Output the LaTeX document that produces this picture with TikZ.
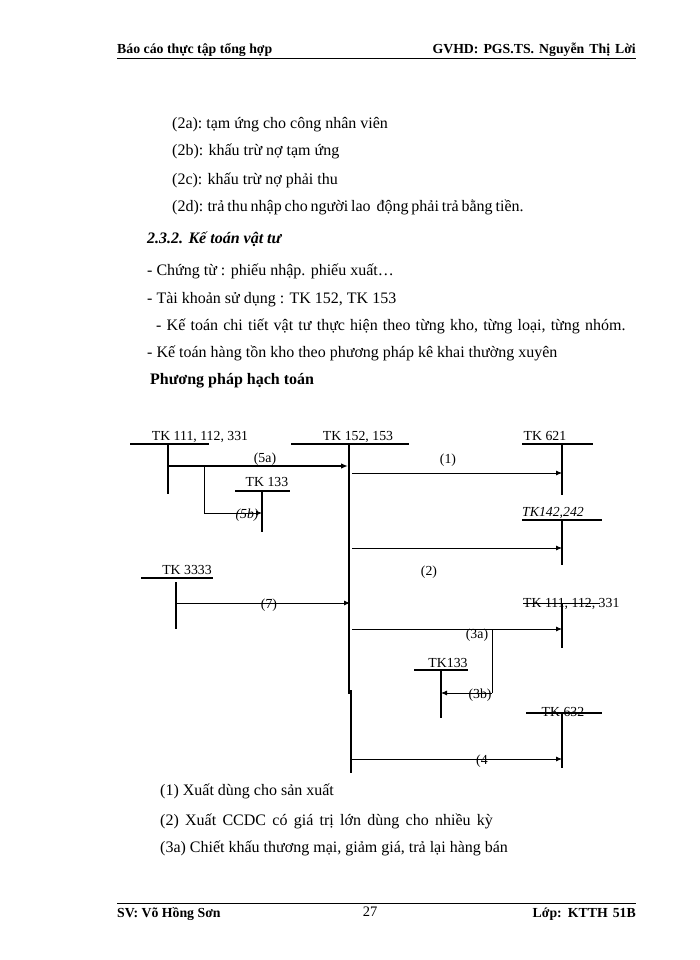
\documentclass[tikz,border=0pt]{standalone}
\usepackage{fontspec}
\setmainfont{Liberation Serif}
\usetikzlibrary{arrows.meta}
\begin{document}
\begin{tikzpicture}[x=1pt,y=-1pt,
  body/.style={anchor=base west,inner sep=0pt,font=\fontsize{16}{19}\selectfont},
  hdr/.style={inner sep=0pt,font=\fontsize{13.8}{16}\selectfont\bfseries},
  lbl/.style={anchor=base,inner sep=0pt,font=\fontsize{13.8}{16}\selectfont},
  tline/.style={line width=1.4pt},
  arr/.style={line width=0.8pt,-{Latex[length=6pt,width=5pt]}},
  conn/.style={line width=0.8pt},
  rule/.style={line width=1pt}
  ]
\useasboundingbox (0,0) rectangle (700,960);
\fill[white] (0,0) rectangle (700,960);

% header / footer
\node[hdr,anchor=base west] (hl) at (117,54) {Báo cáo thực tập tổng hợp};
\node[hdr,anchor=base east] (hr) at (636,54) {\spaceskip=5pt GVHD: PGS.TS. Nguyễn Thị Lời};
\coordinate (hla) at (117,59); \coordinate (hlb) at (636,59);
\draw[rule] (hla) -- (hlb);
\coordinate (fla) at (117,903); \coordinate (flb) at (636,903);
\draw[rule] (fla) -- (flb);
\node[hdr,anchor=base west] (fl) at (117,917) {SV: Võ Hồng Sơn};
\node[lbl,font=\fontsize{14.5}{16}\selectfont] (fc) at (370,916) {27};
\node[hdr,anchor=base east] (fr) at (636,917) {\spaceskip=5pt Lớp: KTTH 51B};

% body text
\node[body] (t2a) at (172,129) {(2a):\ tạm ứng cho công nhân viên};
\node[body] (t2b) at (172,156) {(2b): khấu trừ nợ tạm ứng};
\node[body] (t2c) at (172,184) {(2c): khấu trừ nợ phải thu};
\node[body] (t2d) at (172,211) {\spaceskip=2.9pt (2d): trả thu nhập cho người lao\ \ động phải trả bằng tiền.};
\node[body,font=\fontsize{16}{19}\selectfont\bfseries\itshape] (h232) at (147,243) {2.3.2. Kế toán vật tư};
\node[body] (l1) at (147,275) {- Chứng từ : phiếu nhập. phiếu xuất…};
\node[body] (l2) at (147,303) {- Tài khoản sử dụng : TK 152, TK 153};
\node[body] (l3) at (156,330) {\spaceskip=5.2pt - Kế toán chi tiết\ vật tư thực hiện theo từng kho, từng loại, từng nhóm.};
\node[body] (l4) at (147,357) {- Kế toán hàng tồn kho theo phương pháp kê khai\ thường xuyên};
\node[body,font=\fontsize{16}{19}\selectfont\bfseries] (ppht) at (150,384) {Phương pháp hạch toán};

% T accounts
% T1
\node[lbl] (T1) at (200,440) {TK 111, 112, 331};
\coordinate (T1a) at (130,444); \coordinate (T1b) at (209,444);
\coordinate (T1t) at (168,444); \coordinate (T1d) at (168,494);
\draw[tline] (T1a) -- (T1b); \draw[tline] (T1t) -- (T1d);
% T2 main
\node[lbl] (T2) at (358,440) {TK 152, 153};
\coordinate (T2a) at (291,444); \coordinate (T2b) at (409,444);
\coordinate (T2t) at (349,444); \coordinate (T2m) at (349,694);
\coordinate (T2p) at (351,690); \coordinate (T2d) at (351,773);
\draw[tline] (T2a) -- (T2b);
\draw[line width=1.6pt] (T2t) -- (T2m);
\draw[line width=1.6pt] (T2p) -- (T2d);
% T3
\node[lbl] (T3) at (545,440) {TK 621};
\coordinate (T3a) at (522,444); \coordinate (T3b) at (593,444);
\coordinate (T3t) at (562,444); \coordinate (T3d) at (562,495);
\draw[tline] (T3a) -- (T3b); \draw[tline] (T3t) -- (T3d);
% T4
\node[lbl] (T4) at (267,486) {TK 133};
\coordinate (T4a) at (235,491); \coordinate (T4b) at (290,491);
\coordinate (T4t) at (262,491); \coordinate (T4d) at (262,532);
\draw[tline] (T4a) -- (T4b); \draw[tline] (T4t) -- (T4d);
% T5
\node[lbl,font=\fontsize{13.8}{16}\selectfont\itshape] (T5) at (553,516) {TK142,242};
\coordinate (T5a) at (522,520); \coordinate (T5b) at (602,520);
\coordinate (T5t) at (562,520); \coordinate (T5d) at (562,565);
\draw[tline] (T5a) -- (T5b); \draw[tline] (T5t) -- (T5d);
% T6
\node[lbl] (T6) at (187,574) {TK 3333};
\coordinate (T6a) at (141,578); \coordinate (T6b) at (213,578);
\coordinate (T6t) at (176,582); \coordinate (T6d) at (176,629);
\draw[tline] (T6a) -- (T6b); \draw[tline] (T6t) -- (T6d);
% T7
\node[lbl,anchor=base west] (T7) at (523,607) {TK 111, 112, 331};
\coordinate (T7a) at (523,603); \coordinate (T7b) at (600,603);
\coordinate (T7t) at (562,603); \coordinate (T7d) at (562,648);
\draw[line width=1pt] (T7a) -- (T7b); \draw[tline] (T7t) -- (T7d);
% T8
\node[lbl] (T8) at (448,667) {TK133};
\coordinate (T8a) at (414,670); \coordinate (T8b) at (468,670);
\coordinate (T8t) at (441,670); \coordinate (T8d) at (441,718);
\draw[tline] (T8a) -- (T8b); \draw[tline] (T8t) -- (T8d);
% T9
\node[lbl] (T9) at (563,716) {TK 632};
\coordinate (T9a) at (526,713); \coordinate (T9b) at (602,713);
\coordinate (T9t) at (562,713); \coordinate (T9d) at (562,768);
\draw[tline] (T9a) -- (T9b); \draw[tline] (T9t) -- (T9d);

% connectors
% 5a
\coordinate (s5a) at (168,466); \coordinate (e5a) at (348,466);
\draw[line width=1.6pt,-{Latex[length=7pt,width=5.5pt]}] (s5a) -- (e5a);
\node[lbl] (L5a) at (265,462) {(5a)};
% 5b
\coordinate (b5a) at (204,466); \coordinate (b5b) at (204,513); \coordinate (e5b) at (262,513);
\draw[conn] (b5a) -- (b5b);
\draw[arr] (b5b) -- (e5b);
\node[lbl,font=\fontsize{13.8}{16}\selectfont\itshape] (L5b) at (247,518) {(5b)};
% 1
\coordinate (s1) at (352,473); \coordinate (e1) at (562,473);
\draw[arr] (s1) -- (e1);
\node[lbl] (L1) at (448,463) {(1)};
% 2
\coordinate (s2) at (352,548); \coordinate (e2) at (562,548);
\draw[arr] (s2) -- (e2);
\node[lbl] (L2) at (429,575) {(2)};
% 7
\coordinate (s7) at (176,603); \coordinate (e7) at (350,603);
\draw[arr] (s7) -- (e7);
\node[lbl] (L7) at (269,608) {(7)};
% 3a
\coordinate (s3a) at (352,629); \coordinate (e3a) at (562,629);
\draw[arr] (s3a) -- (e3a);
\node[lbl] (L3a) at (477,638) {(3a)};
% 3b
\coordinate (b3a) at (492,629); \coordinate (b3b) at (492,693); \coordinate (e3b) at (441,693);
\draw[conn] (b3a) -- (b3b);
\draw[arr] (b3b) -- (e3b);
\node[lbl] (L3b) at (480,698) {(3b)};
% 4
\coordinate (s4) at (352,759); \coordinate (e4) at (562,759);
\draw[arr] (s4) -- (e4);
\node[lbl,anchor=base west] (L4) at (476,764) {(4};

% bottom legend
\node[body] (n1) at (160,795) {(1) Xuất\ dùng cho sản xuất};
\node[body] (n2) at (160,825) {\spaceskip=6.3pt (2) Xuất CCDC có giá trị lớn dùng cho nhiều kỳ};
\node[body] (n3) at (160,852) {(3a) Chiết khấu thương mại,\ giảm\ giá, trả lại\ hàng bán};
\end{tikzpicture}
\end{document}
